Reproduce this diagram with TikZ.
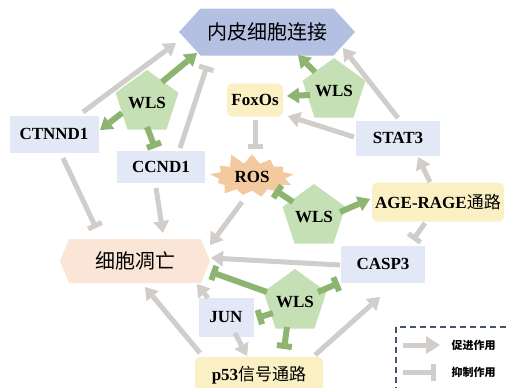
\documentclass[tikz,border=0pt]{standalone}
\usepackage{fontspec}
\setmainfont{Liberation Serif}
\newfontfamily\cjk{Noto Sans CJK SC}
\usepackage{tikz}
\usetikzlibrary{arrows.meta,shapes.geometric,shapes.symbols}

\definecolor{graylink}{RGB}{208,205,202}
\definecolor{greenlink}{RGB}{141,180,112}
\definecolor{wlsfill}{RGB}{197,224,180}
\definecolor{genefill}{RGB}{226,232,245}
\definecolor{pathfill}{RGB}{251,240,196}
\definecolor{rosfill}{RGB}{243,201,160}
\definecolor{apopfill}{RGB}{251,229,214}
\definecolor{endofill}{RGB}{180,192,226}
\definecolor{legendline}{RGB}{68,84,106}

\begin{document}
\begin{tikzpicture}[x=1pt,y=-1pt]
  \tikzstyle{gene}=[rectangle,fill=genefill,inner sep=0pt,font=\fontsize{17}{19}\selectfont\bfseries]
  \tikzstyle{pathway}=[rectangle,rounded corners=5pt,fill=pathfill,inner sep=0pt,font=\fontsize{17}{19}\selectfont\bfseries]
  \tikzstyle{wls}=[regular polygon,regular polygon sides=5,minimum size=50pt,inner sep=0pt,fill=wlsfill,font=\fontsize{17}{19}\selectfont\bfseries]
  \tikzstyle{outcome}=[signal,signal to=west and east,inner sep=0pt,font=\cjk\fontsize{20}{24}\selectfont]
  \tikzstyle{pro}=[draw=graylink,line width=5pt,-{Triangle[width=16pt,length=12pt,line width=0pt]}]
  \tikzstyle{inh}=[draw=graylink,line width=5pt,-{Bar[width=15pt]}]
  \tikzstyle{gpro}=[draw=greenlink,line width=6pt,-{Triangle[width=16pt,length=12pt,line width=0pt]}]
  \tikzstyle{ginh}=[draw=greenlink,line width=6pt,-{Bar[width=15pt]}]

  \clip (0,0) rectangle (506,388);

  \node[outcome,fill=endofill,minimum width=176pt,minimum height=47pt,signal pointer angle=95] (endo) at (267,32) {内皮细胞连接};
  \node[outcome,fill=apopfill,minimum width=150pt,minimum height=44pt,signal pointer angle=135] (apop) at (135,261) {细胞凋亡};
  \node[gene,minimum width=89pt,minimum height=37pt] (ctnnd1) at (54,134) {CTNND1};
  \node[gene,minimum width=88pt,minimum height=32pt] (ccnd1) at (161,167) {CCND1};
  \node[gene,minimum width=84pt,minimum height=35pt] (stat3) at (398,138) {STAT3};
  \node[gene,minimum width=84pt,minimum height=37pt] (casp3) at (383,264) {CASP3};
  \node[gene,minimum width=55pt,minimum height=39pt] (jun) at (226,317) {JUN};
  \node[pathway,minimum width=56pt,minimum height=33pt] (foxos) at (255,100) {FoxOs};
  \node[pathway,minimum width=132pt,minimum height=39pt] (agerage) at (438,202) {AGE-RAGE{\cjk\mdseries\fontsize{17}{20}\selectfont 通路}};
  \node[pathway,minimum width=128pt,minimum height=36pt] (p53) at (259,375) {p53{\cjk\mdseries\fontsize{17}{20}\selectfont 信号通路}};
  \node[starburst,starburst points=13,starburst point height=12pt,random starburst=11,fill=rosfill,inner xsep=6pt,inner ysep=4pt,font=\fontsize{17}{19}\selectfont\bfseries] (ros) at (252,177) {ROS};
  \node[wls] (wls1) at (147,103) {WLS};
  \node[wls] (wls2) at (334,91) {WLS};
  \node[wls] (wls3) at (314,217) {WLS};
  \node[wls] (wls4) at (295,302) {WLS};

  % gray links
  \draw[pro] ([shift={(29,-22)}]ctnnd1.center) -- ([shift={(-91,11)}]endo.center);
  \draw[inh] ([shift={(19,-19)}]ccnd1.center) -- ([shift={(-60,34)}]endo.center);
  \draw[inh] ([shift={(9,24)}]ctnnd1.center) -- ([shift={(-39,-33)}]apop.center);
  \draw[pro] ([shift={(-5,21)}]ccnd1.center) -- ([shift={(28,-28)}]apop.center);
  \draw[inh] ([shift={(3,-57)}]ros.center) -- ([shift={(3,-28)}]ros.center);
  \draw[pro] ([shift={(-44,-1)}]stat3.center) -- ([shift={(33,16)}]foxos.center);
  \draw[pro] ([shift={(0,-20)}]stat3.center) -- ([shift={(76,16)}]endo.center);
  \draw[pro] ([shift={(-8,-20)}]agerage.center) -- ([shift={(20,19)}]stat3.center);
  \draw[inh] ([shift={(-13,21)}]agerage.center) -- ([shift={(30,-24)}]casp3.center);
  \draw[pro] ([shift={(-10,25)}]ros.center) -- ([shift={(75,-16)}]apop.center);
  \draw[pro] ([shift={(-43,1)}]casp3.center) -- ([shift={(76,-3)}]apop.center);
  \draw[pro] ([shift={(-18,-19)}]jun.center) -- ([shift={(62,23)}]apop.center);
  \draw[pro] ([shift={(9,16)}]jun.center) -- ([shift={(-12,-19)}]p53.center);
  \draw[pro] ([shift={(-59,-22)}]p53.center) -- ([shift={(10,26)}]apop.center);
  \draw[pro] ([shift={(56,-20)}]p53.center) -- ([shift={(-3,33)}]casp3.center);

  % WLS links
  \draw[gpro] ([shift={(15,-21)}]wls1.center) -- ([shift={(-70,21)}]endo.center);
  \draw[gpro] ([shift={(-25,10)}]wls1.center) -- ([shift={(46,-4)}]ctnnd1.center);
  \draw[ginh] ([shift={(0,24)}]wls1.center) -- ([shift={(-6,-19)}]ccnd1.center);
  \draw[gpro] ([shift={(-19,-19)}]wls2.center) -- ([shift={(31,23)}]endo.center);
  \draw[gpro] ([shift={(-24,4)}]wls2.center) -- ([shift={(32,-4)}]foxos.center);
  \draw[ginh] ([shift={(-21,-15)}]wls3.center) -- ([shift={(23,13)}]ros.center);
  \draw[gpro] ([shift={(26,-5)}]wls3.center) -- ([shift={(-68,-3)}]agerage.center);
  \draw[ginh] ([shift={(-28,-10)}]wls4.center) -- ([shift={(76,11)}]apop.center);
  \draw[ginh] ([shift={(23,-10)}]wls4.center) -- ([shift={(-44,19)}]casp3.center);
  \draw[ginh] ([shift={(-22,11)}]wls4.center) -- ([shift={(31,1)}]jun.center);
  \draw[ginh] ([shift={(-8,25)}]wls4.center) -- ([shift={(25,-26)}]p53.center);

  % legend
  \draw[legendline,line width=2pt,dash pattern=on 6pt off 4pt] (396,327) rectangle (508,395);
  \node[font=\cjk\bfseries\fontsize{11}{13}\selectfont,anchor=west] (lpro) at (448,345) {促进作用};
  \node[font=\cjk\bfseries\fontsize{11}{13}\selectfont,anchor=west] (linh) at (448,372) {抑制作用};
  \draw[pro,-{Triangle[width=18pt,length=14pt,line width=0pt]}] ([xshift=-45pt]lpro.west) -- ([xshift=-8pt]lpro.west);
  \draw[inh,-{Bar[width=17pt]}] ([xshift=-45pt]linh.west) -- ([xshift=-12pt]linh.west);
\end{tikzpicture}
\end{document}
